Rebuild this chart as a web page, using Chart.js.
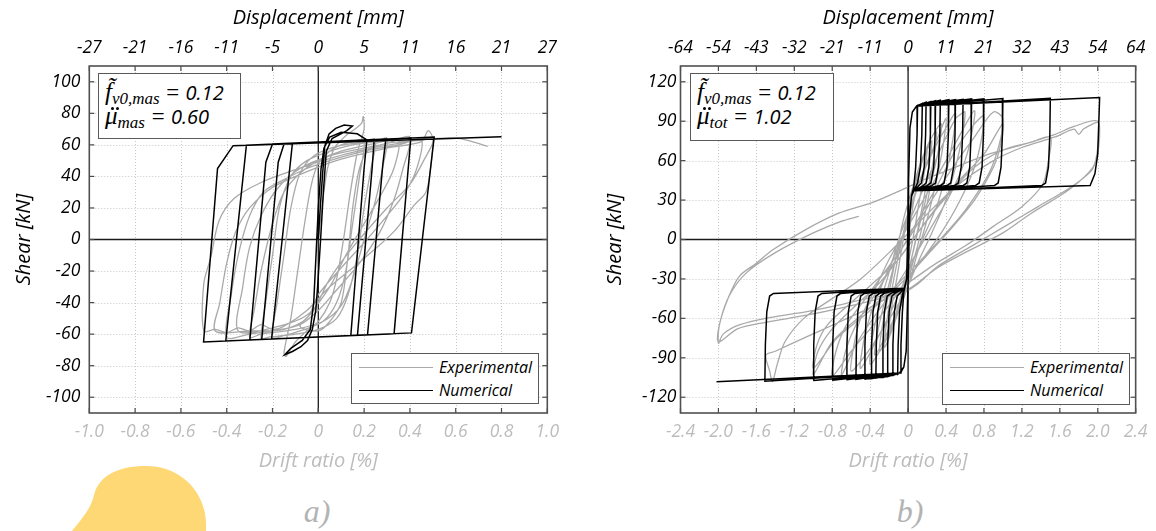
<!DOCTYPE html>
<html><head><meta charset="utf-8">
<script src="https://cdn.jsdelivr.net/npm/chart.js@4.4.1/dist/chart.umd.min.js"></script>
<style>
html,body{margin:0;padding:0;background:#fff;}
body{width:1156px;height:531px;position:relative;overflow:hidden;font-family:'Open Sans',sans-serif;}
.wrap{position:absolute;top:0;height:475px;}
#wa{left:0;width:580px;}
#wb{left:580px;width:576px;}
.note{position:absolute;background:#fff;border:1.5px solid #5a5a5a;box-sizing:border-box;color:#000;}
.note .ln{position:absolute;left:6px;white-space:nowrap;font-size:20px;font-style:italic;line-height:22px;}
.m{font-family:'Liberation Serif','DejaVu Serif',serif;font-style:italic;}
.big{font-size:25px;}
.sub{font-size:17px;position:relative;top:4px;}
.eq{font-family:'Liberation Serif',serif;font-size:23px;}
.acc{position:relative;display:inline-block;}
.dt{position:absolute;width:3px;height:3px;border-radius:50%;background:#000;top:2px;}
.leg{position:absolute;background:#fff;border:1.5px solid #5a5a5a;box-sizing:border-box;}
.leg .sw{position:absolute;left:7px;width:74px;height:0;}
.leg .tx{position:absolute;left:87px;font-size:16px;font-style:italic;line-height:18px;color:#000;white-space:nowrap;}
.lab{position:absolute;font-family:'Liberation Serif',serif;font-style:italic;font-size:32px;color:#b3b3b3;transform:translate(-50%,-50%);}
</style></head>
<body>
<svg style="position:absolute;left:0;top:440px" width="230" height="91"><path d="M72 91 C84 76 91 68 94 55 C99 36 117 26 146 26 C181 26 206 52 206 85 L206 91 Z" fill="#fdd874"/></svg>
<div class="wrap" id="wa"><canvas id="ca"></canvas></div>
<div class="wrap" id="wb"><canvas id="cb"></canvas></div>

<div class="note" style="left:98px;top:73px;width:143px;height:66px;">
  <div class="ln" style="top:7px"><span class="m big">f̃</span><span class="m sub">v0,mas</span> <span class="eq">=</span> 0.12</div>
  <div class="ln" style="top:31px"><span class="acc"><span class="m big">μ</span><span class="dt" style="left:6px"></span><span class="dt" style="left:11px"></span></span><span class="m sub">mas</span> <span class="eq">=</span> 0.60</div>
</div>
<div class="note" style="left:690px;top:73px;width:144px;height:68px;">
  <div class="ln" style="top:7px"><span class="m big">f̃</span><span class="m sub">v0,mas</span> <span class="eq">=</span> 0.12</div>
  <div class="ln" style="top:31px"><span class="acc"><span class="m big">μ</span><span class="dt" style="left:6px"></span><span class="dt" style="left:11px"></span></span><span class="m sub">tot</span> <span class="eq">=</span> 1.02</div>
</div>

<div class="leg" style="left:351px;top:353px;width:188px;height:51px;">
  <div class="sw" style="top:13px;border-top:1.5px solid #a9a9a9"></div><div class="tx" style="top:4px">Experimental</div>
  <div class="sw" style="top:36px;border-top:1.8px solid #000"></div><div class="tx" style="top:27px">Numerical</div>
</div>
<div class="leg" style="left:942px;top:353px;width:188px;height:52px;">
  <div class="sw" style="top:13px;border-top:1.5px solid #a9a9a9"></div><div class="tx" style="top:4px">Experimental</div>
  <div class="sw" style="top:36px;border-top:1.8px solid #000"></div><div class="tx" style="top:27px">Numerical</div>
</div>

<div class="lab" style="left:317px;top:511px">a)</div>
<div class="lab" style="left:910px;top:511px">b)</div>

<script>
// ---------- tick values & labels ----------
const driftTicksA = [-1.0,-0.8,-0.6,-0.4,-0.2,0,0.2,0.4,0.6,0.8,1.0];
const driftLabelsA = ['-1.0','-0.8','-0.6','-0.4','-0.2','0','0.2','0.4','0.6','0.8','1.0'];
const dispLabelsA = ['-27','-21','-16','-11','-5','0','5','11','16','21','27'];
const shearTicksA = [-100,-80,-60,-40,-20,0,20,40,60,80,100];

const driftTicksB = [-2.4,-2.0,-1.6,-1.2,-0.8,-0.4,0,0.4,0.8,1.2,1.6,2.0,2.4];
const driftLabelsB = ['-2.4','-2.0','-1.6','-1.2','-0.8','-0.4','0','0.4','0.8','1.2','1.6','2.0','2.4'];
const dispLabelsB = ['-64','-54','-43','-32','-21','-11','0','11','21','32','43','54','64'];
const shearTicksB = [-120,-90,-60,-30,0,30,60,90,120];

// ---------- series: [drift %, shear kN] ----------
const numericalA = [
[0,0],[0.008,19],[0.018,40],[0.028,59],[0.047,67],[0.076,70.5],[0.113,72.6],[0.149,72],
[0.125,69],[0.06,64],[0.035,56],[0.022,30],[0.01,0],[-0.003,-30],[-0.011,-45],[-0.026,-57],[-0.047,-64],[-0.076,-68],[-0.113,-71],[-0.146,-73],
[-0.12,-69],[-0.07,-64],[-0.035,-57],[-0.02,-40],[-0.01,-10],[0.0,20],[0.012,45],[0.025,58],[0.05,65],[0.1,68],[0.17,67],[0.212,63.1],
[0.2,45],[0.142,-60.9],[-0.204,-63.1],[-0.113,61.1],
[0.244,63.3],[0.235,45],[0.171,-60.7],[-0.247,-63.4],[-0.175,49],[-0.149,60.9],
[0.295,63.7],[0.282,48],[0.215,-60.4],[-0.299,-63.7],[-0.229,49],[-0.2,60.5],
[0.404,64.3],[0.331,-59.7],[-0.404,-64.3],[-0.314,59.8],
[0.506,65],[0.407,-59.2],[-0.501,-65],[-0.44,45],[-0.372,59.5],
[0.80,65.2]
];

const experimentalA = [
[0,0],[0.02,25],[0.04,45],[0.07,58],[0.1,63],[0.13,67],[0.16,70],[0.19,74],[0.196,78],[0.2,70],
[0.17,55],[0.14,30],[0.11,0],[0.08,-25],[0.05,-40],[0.0,-52],[-0.05,-58],[-0.1,-65],[-0.14,-74],[-0.15,-72],
[-0.12,-50],[-0.09,-20],[-0.06,10],[-0.03,35],[0.0,48],[0.05,56],[0.1,60],[0.15,62],[0.2,63],
[0.18,40],[0.15,10],[0.12,-20],[0.08,-40],[0.02,-52],[-0.08,-58],[-0.15,-61],[-0.2,-62],
[-0.18,-40],[-0.15,-10],[-0.12,20],[-0.08,42],[-0.02,53],[0.08,59],[0.2,62],[0.25,63],
[0.23,45],[0.2,20],[0.17,-10],[0.13,-35],[0.08,-50],[0.0,-57],[-0.1,-60],[-0.22,-62],[-0.25,-63],
[-0.23,-40],[-0.2,-10],[-0.17,20],[-0.12,40],[-0.05,50],[0.05,56],[0.15,60],[0.25,62],[0.3,64],
[0.28,45],[0.25,25],[0.2,0],[0.15,-25],[0.1,-42],[0.02,-52],[-0.1,-57],[-0.25,-60],[-0.3,-62],
[-0.28,-45],[-0.25,-20],[-0.2,10],[-0.15,30],[-0.08,42],[0.0,50],[0.1,56],[0.25,61],[0.35,63],
[0.33,45],[0.28,30],[0.2,10],[0.12,-10],[0.05,-30],[-0.05,-48],[-0.2,-56],[-0.35,-58],
[-0.33,-30],[-0.3,-5],[-0.25,15],[-0.18,32],[-0.08,45],[0.05,53],[0.2,58],[0.3,61],[0.4,65],
[0.37,45],[0.33,25],[0.27,5],[0.18,-15],[0.08,-32],[0.0,-45],[-0.08,-54],[-0.2,-58],[-0.3,-60],[-0.4,-62],
[-0.38,-35],[-0.35,-10],[-0.3,15],[-0.24,30],[-0.15,38],[-0.05,45],[0.05,50],[0.2,56],[0.35,60],[0.45,63],
[0.43,45],[0.38,30],[0.3,15],[0.2,-2],[0.1,-18],[0.0,-35],[-0.05,-50],[-0.15,-57],[-0.3,-58],[-0.45,-58],
[-0.43,-40],[-0.4,-15],[-0.36,5],[-0.3,20],[-0.2,33],[-0.05,43],[0.1,51],[0.3,58],[0.45,62],[0.48,69],[0.5,64],
[0.49,45],[0.47,30],[0.42,22],[0.33,5],[0.2,-12],[0.05,-30],[-0.05,-45],[-0.15,-55],[-0.2,-57],[-0.25,-54],[-0.3,-58],[-0.35,-56],[-0.4,-59],[-0.45,-57],[-0.5,-58],
[-0.5,-28],[-0.469,-11],[-0.433,12],[-0.368,26],[-0.252,36],[-0.106,44],[0.04,51],[0.2,57],[0.35,61],[0.5,64],
[0.46,50],[0.4,35],[0.3,20],[0.15,-5],[0.05,-25],[-0.02,-45],[-0.08,-55],[0.0,-58],[0.05,-52],[0.1,-40],[0.13,-10],[0.15,20],[0.18,45],[0.22,57],[0.3,61],[0.45,63],[0.5,64],[0.62,64],[0.74,59]
];

const numericalB = [
[0,0],[0.005,45],[0.02,85],[0.045,97],[0.09,101.5],[0.1,102],
[0.095,80],[0.08,55],[0.06,40],
[0.035,33],[0.015,15],[0.005,-20],[-0.005,-45],[-0.02,-85],[-0.045,-97],[-0.08,-101.5],
[-0.075,-80],[-0.06,-55],[-0.045,-40],
[-0.015,-30],[-0.005,0],[0.005,45],[0.02,85],[0.045,97],[0.09,101.5],[0.15,103.5],
[0.145,80],[0.13,55],[0.1,43],[0.06,37],
[0.035,33],[0.015,15],[0.005,-20],[-0.005,-45],[-0.02,-85],[-0.045,-97],[-0.09,-101.5],[-0.11,-102.5],
[-0.105,-80],[-0.09,-55],[-0.06,-42],[-0.04,-37],
[-0.015,-30],[-0.005,0],[0.005,45],[0.02,85],[0.045,97],[0.09,101.5],[0.19,104.5],
[0.185,80],[0.17,55],[0.14,43],[0.1,40],[0.06,37],
[0.035,33],[0.015,15],[0.005,-20],[-0.005,-45],[-0.02,-85],[-0.045,-97],[-0.09,-101.5],[-0.165,-103.5],
[-0.16,-80],[-0.145,-55],[-0.115,-43],[-0.075,-40],[-0.04,-37],
[-0.015,-30],[-0.005,0],[0.005,45],[0.02,85],[0.045,97],[0.09,101.5],[0.24,105],
[0.235,80],[0.22,55],[0.19,43],[0.15,40.5],[0.06,37],
[0.035,33],[0.015,15],[0.005,-20],[-0.005,-45],[-0.02,-85],[-0.045,-97],[-0.09,-101.5],[-0.22,-104.5],
[-0.215,-80],[-0.2,-55],[-0.17,-43],[-0.13,-40.5],[-0.04,-37],
[-0.015,-30],[-0.005,0],[0.005,45],[0.02,85],[0.045,97],[0.09,101.5],[0.29,105.5],
[0.285,80],[0.27,55],[0.24,43],[0.2,41],[0.06,37],
[0.035,33],[0.015,15],[0.005,-20],[-0.005,-45],[-0.02,-85],[-0.045,-97],[-0.09,-101.5],[-0.27,-105],
[-0.265,-80],[-0.25,-55],[-0.22,-43],[-0.18,-41],[-0.04,-37],
[-0.015,-30],[-0.005,0],[0.005,45],[0.02,85],[0.045,97],[0.09,101.5],[0.34,106],
[0.335,80],[0.32,55],[0.29,43],[0.25,41],[0.06,37],
[0.035,33],[0.015,15],[0.005,-20],[-0.005,-45],[-0.02,-85],[-0.045,-97],[-0.09,-101.5],[-0.34,-105.5],
[-0.335,-80],[-0.32,-55],[-0.29,-43],[-0.25,-41],[-0.04,-37],
[-0.015,-30],[-0.005,0],[0.005,45],[0.02,85],[0.045,97],[0.09,101.5],[0.43,106.3],
[0.425,80],[0.41,55],[0.38,43],[0.34,41],[0.06,37],
[0.035,33],[0.015,15],[0.005,-20],[-0.005,-45],[-0.02,-85],[-0.045,-97],[-0.09,-101.5],[-0.39,-106],
[-0.385,-80],[-0.37,-55],[-0.34,-43],[-0.3,-41],[-0.04,-37],
[-0.015,-30],[-0.005,0],[0.005,45],[0.02,85],[0.045,97],[0.09,101.5],[0.5,106.5],
[0.495,80],[0.48,55],[0.45,43],[0.41,41],[0.06,37],
[0.035,33],[0.015,15],[0.005,-20],[-0.005,-45],[-0.02,-85],[-0.045,-97],[-0.09,-101.5],[-0.46,-106.3],
[-0.455,-80],[-0.44,-55],[-0.41,-43],[-0.37,-41],[-0.04,-37],
[-0.015,-30],[-0.005,0],[0.005,45],[0.02,85],[0.045,97],[0.09,101.5],[0.58,106.7],
[0.575,80],[0.56,55],[0.53,43],[0.49,41],[0.06,37],
[0.035,33],[0.015,15],[0.005,-20],[-0.005,-45],[-0.02,-85],[-0.045,-97],[-0.09,-101.5],[-0.55,-106.5],
[-0.545,-80],[-0.53,-55],[-0.5,-43],[-0.46,-41],[-0.04,-37],
[-0.015,-30],[-0.005,0],[0.005,45],[0.02,85],[0.045,97],[0.09,101.5],[0.67,107],
[0.665,80],[0.65,55],[0.62,43],[0.58,41],[0.06,37],
[0.035,33],[0.015,15],[0.005,-20],[-0.005,-45],[-0.02,-85],[-0.045,-97],[-0.09,-101.5],[-0.65,-106.7],
[-0.645,-80],[-0.63,-55],[-0.6,-43],[-0.56,-41],[-0.04,-37],
[-0.015,-30],[-0.005,0],[0.005,45],[0.02,85],[0.045,97],[0.09,101.5],[0.8,107],
[0.795,80],[0.78,55],[0.75,43],[0.71,41],[0.06,37],
[0.035,33],[0.015,15],[0.005,-20],[-0.005,-45],[-0.02,-85],[-0.045,-97],[-0.09,-101.5],[-0.8,-107],
[-0.795,-80],[-0.78,-55],[-0.75,-43],[-0.71,-41],[-0.04,-37],
[-0.015,-30],[-0.005,0],[0.005,45],[0.02,85],[0.045,97],[0.09,101.5],[1.0,107.3],
[0.995,80],[0.98,55],[0.95,43],[0.91,41],[0.06,37],
[0.035,33],[0.015,15],[0.005,-20],[-0.005,-45],[-0.02,-85],[-0.045,-97],[-0.09,-101.5],[-1.0,-107.3],
[-0.995,-80],[-0.98,-55],[-0.95,-43],[-0.91,-41],[-0.04,-37],
[-0.015,-30],[-0.005,0],[0.005,45],[0.02,85],[0.045,97],[0.09,101.5],[1.5,107.5],
[1.495,80],[1.48,55],[1.45,43],[1.41,41],[0.06,37],
[0.035,33],[0.015,15],[0.005,-20],[-0.005,-45],[-0.02,-85],[-0.045,-97],[-0.09,-101.5],[-1.51,-107.8],
[-1.505,-80],[-1.49,-55],[-1.46,-43],[-1.42,-41],[-0.04,-37],
[-0.015,-30],[-0.005,0],[0.005,45],[0.02,85],[0.045,97],[0.09,101.5],[2.02,108],
[2.0,65],[1.97,50],[1.92,41],[0.06,37],
[0.035,33],[0.015,15],[0.005,-20],[-0.005,-45],[-0.02,-85],[-0.045,-97],[-0.09,-101.5],[-2.02,-108.2]
];

const experimentalB = [
[0,0],[0.05,25],[0.1,45],[0.15,60],[0.2,70],[0.18,55],[0.12,30],[0.05,0],[-0.02,-25],[-0.1,-50],[-0.15,-62],[-0.2,-72],
[-0.18,-55],[-0.12,-30],[-0.05,0],[0.02,25],[0.1,50],[0.2,68],[0.25,75],
[0.22,55],[0.15,25],[0.05,-10],[-0.05,-40],[-0.15,-65],[-0.25,-82],
[-0.22,-60],[-0.15,-30],[-0.05,5],[0.05,35],[0.15,60],[0.25,78],[0.3,82],
[0.27,62],[0.2,35],[0.1,5],[0.0,-25],[-0.1,-50],[-0.2,-70],[-0.3,-85],
[-0.27,-65],[-0.2,-40],[-0.12,-10],[-0.05,15],[0.05,40],[0.15,62],[0.25,78],[0.35,88],
[0.32,68],[0.25,45],[0.18,20],[0.1,-5],[0.0,-30],[-0.1,-52],[-0.2,-68],[-0.35,-88],
[-0.32,-70],[-0.25,-48],[-0.15,-20],[-0.05,5],[0.05,28],[0.15,50],[0.3,75],[0.4,92],
[0.37,72],[0.3,45],[0.2,15],[0.1,-10],[0.0,-35],[-0.1,-55],[-0.2,-72],[-0.3,-85],[-0.4,-95],
[-0.37,-72],[-0.3,-50],[-0.2,-25],[-0.1,0],[0.0,20],[0.1,40],[0.25,65],[0.4,85],[0.5,96],
[0.47,75],[0.4,50],[0.3,25],[0.15,0],[0.0,-25],[-0.15,-50],[-0.3,-72],[-0.5,-98],
[-0.47,-78],[-0.4,-58],[-0.25,-30],[-0.1,-5],[0.05,20],[0.2,45],[0.35,70],[0.5,92],[0.55,95],
[0.6,97],[0.57,78],[0.5,55],[0.4,30],[0.25,5],[0.1,-18],[0.0,-35],[-0.15,-55],[-0.3,-72],[-0.45,-88],[-0.6,-100],
[-0.57,-80],[-0.5,-60],[-0.35,-38],[-0.2,-15],[0.0,10],[0.2,35],[0.4,60],[0.55,80],[0.7,98],
[0.67,80],[0.6,60],[0.45,35],[0.25,10],[0.05,-15],[-0.15,-38],[-0.35,-58],[-0.55,-80],[-0.7,-103],
[-0.66,-85],[-0.55,-65],[-0.35,-42],[-0.15,-18],[0.05,8],[0.3,40],[0.5,68],[0.7,88],[0.8,94],
[0.77,75],[0.7,55],[0.55,30],[0.35,5],[0.15,-15],[0.0,-30],[-0.2,-50],[-0.4,-68],[-0.6,-85],[-0.8,-104],
[-0.76,-85],[-0.65,-65],[-0.45,-45],[-0.25,-25],[0.0,0],[0.25,30],[0.5,58],[0.7,78],[0.9,97],[1.0,92],
[0.96,72],[0.85,50],[0.6,22],[0.3,-3],[0.05,-22],[-0.2,-40],[-0.5,-58],[-0.8,-78],[-1.0,-103],
[-0.95,-85],[-0.8,-68],[-0.55,-50],[-0.3,-33],[-0.05,-10],[0.2,15],[0.5,42],[0.8,65],[1.0,88],
[0.97,70],[0.9,55],[0.7,30],[0.45,8],[0.2,-12],[0.0,-28],[-0.25,-45],[-0.5,-60],[-0.75,-75],[-1.0,-98],
[-0.96,-80],[-0.85,-65],[-0.6,-48],[-0.35,-32],[-0.1,-15],[0.1,5],[0.4,32],[0.7,55],[1.0,68],[1.3,74],[1.5,78],
[1.48,60],[1.42,42],[1.2,25],[0.9,10],[0.6,-5],[0.3,-18],[0.0,-33],[-0.3,-48],[-0.7,-62],[-1.1,-75],[-1.4,-85],[-1.5,-88],[-1.46,-100],[-1.43,-108],
[-1.38,-95],[-1.3,-78],[-1.1,-60],[-0.8,-45],[-0.5,-30],[-0.2,-10],[0.1,12],[0.5,40],[0.9,60],[1.2,70],[1.55,78],[1.75,84],[1.8,80],[1.85,84],[1.95,88],[2.0,89],
[2.02,85],[2.01,70],[1.98,60],[1.93,52],[1.72,40],[1.37,25],[1.02,10],[0.67,-5],[0.32,-20],[0.08,-35],[-0.1,-42],[-0.38,-44],[-0.73,-50],[-1.08,-55],[-1.43,-59],[-1.78,-65],[-1.95,-72],[-2.0,-79],
[-1.99,-65],[-1.9,-45],[-1.78,-28],[-1.6,-18],[-1.43,-8],[-1.08,7.5],[-0.73,20],[-0.38,28],[-0.06,38],[0.15,45],[0.5,55],[0.85,65],[1.2,72],[1.55,80],[1.75,86],[2.0,90],
[2.0,70],[1.95,55],[1.7,38],[1.3,20],[1.0,5],[0.6,-10],[0.3,-22],[0.0,-38],[-0.3,-45],[-0.7,-52],[-1.1,-58],[-1.5,-63],[-1.8,-68],[-2.0,-78],
[-1.98,-62],[-1.88,-42],[-1.7,-25],[-1.4,-10],[-1.0,5],[-0.7,14],[-0.52,17.6]
];

// ---------- drawing ----------
const FONT = {family:'Open Sans', size:17.5, style:'italic'};
const TFONT = {family:'Open Sans', size:20, style:'italic'};

const framePlugin = {
  id:'frame',
  beforeDatasetsDraw(chart){
    const {ctx, chartArea:a, scales:{x,y}} = chart;
    ctx.save();
    ctx.strokeStyle='#c8c8c8'; ctx.lineWidth=1; ctx.setLineDash([1,2]);
    x.ticks.forEach(t=>{
      if(t.value===0) return;
      const px=Math.round(x.getPixelForValue(t.value))+0.5;
      if(px<=a.left+1||px>=a.right-1) return;
      ctx.beginPath(); ctx.moveTo(px,a.top); ctx.lineTo(px,a.bottom); ctx.stroke();
    });
    y.ticks.forEach(t=>{
      if(t.value===0) return;
      const py=Math.round(y.getPixelForValue(t.value))+0.5;
      ctx.beginPath(); ctx.moveTo(a.left,py); ctx.lineTo(a.right,py); ctx.stroke();
    });
    ctx.setLineDash([]);
    ctx.strokeStyle='#1a1a1a'; ctx.lineWidth=1.3;
    const zx=x.getPixelForValue(0), zy=y.getPixelForValue(0);
    ctx.beginPath(); ctx.moveTo(zx,a.top); ctx.lineTo(zx,a.bottom); ctx.stroke();
    ctx.beginPath(); ctx.moveTo(a.left,zy); ctx.lineTo(a.right,zy); ctx.stroke();
    ctx.restore();
  },
  afterDatasetsDraw(chart){
    const {ctx, chartArea:a, scales:{x,y}} = chart;
    ctx.save();
    ctx.strokeStyle='#4a4a4a'; ctx.lineWidth=1.2;
    const L=5;
    x.ticks.forEach(t=>{
      const px=x.getPixelForValue(t.value);
      ctx.beginPath(); ctx.moveTo(px,a.top); ctx.lineTo(px,a.top+L); ctx.stroke();
      ctx.beginPath(); ctx.moveTo(px,a.bottom); ctx.lineTo(px,a.bottom-L); ctx.stroke();
    });
    y.ticks.forEach(t=>{
      const py=y.getPixelForValue(t.value);
      ctx.beginPath(); ctx.moveTo(a.left,py); ctx.lineTo(a.left+L,py); ctx.stroke();
      ctx.beginPath(); ctx.moveTo(a.right,py); ctx.lineTo(a.right-L,py); ctx.stroke();
    });
    ctx.lineWidth=1.6; ctx.strokeStyle='#505050';
    ctx.strokeRect(a.left,a.top,a.right-a.left,a.bottom-a.top);
    ctx.restore();
  }
};

function toXY(arr){ return arr.map(p=>({x:p[0], y:p[1]})); }

function makeChart(id, w, h, o){
  const cv=document.getElementById(id);
  cv.width=w; cv.height=h; cv.style.width=w+'px'; cv.style.height=h+'px';
  return new Chart(cv, {
    type:'scatter',
    data:{datasets:[
      {label:'Numerical', data:toXY(o.num), showLine:true, pointRadius:0, borderColor:'#000', borderWidth:1.5, tension:0, fill:false, xAxisID:'x', yAxisID:'y'},
      {label:'Experimental', data:toXY(o.exp), showLine:true, pointRadius:0, borderColor:'#a9a9a9', borderWidth:1.3, tension:0.3, fill:false, xAxisID:'x', yAxisID:'y'}
    ]},
    options:{
      responsive:false, animation:false, events:[],
      layout:{padding:{left:0,right:o.padRight,top:0,bottom:0}},
      plugins:{legend:{display:false}, tooltip:{enabled:false}},
      scales:{
        x:{type:'linear', position:'bottom', min:o.xmin, max:o.xmax,
           afterBuildTicks:s=>{s.ticks=o.xticks.map(v=>({value:v}));},
           afterFit:s=>{s.height=62;},
           grid:{display:false, drawTicks:false}, border:{display:false},
           ticks:{autoSkip:false, maxRotation:0, minRotation:0, padding:8.5, color:'#bcbcbc', font:FONT,
                  callback:(v,i)=>o.xlabels[i]},
           title:{display:true, text:'Drift ratio [%]', color:'#bcbcbc', font:TFONT, padding:{top:0,bottom:2}}},
        x2:{type:'linear', position:'top', min:o.xmin, max:o.xmax,
           afterBuildTicks:s=>{s.ticks=o.xticks.map(v=>({value:v}));},
           afterFit:s=>{s.height=66;},
           grid:{display:false, drawTicks:false}, border:{display:false},
           ticks:{autoSkip:false, maxRotation:0, minRotation:0, padding:7.5, color:'#000', font:FONT,
                  callback:(v,i)=>o.toplabels[i]},
           title:{display:true, text:'Displacement [mm]', color:'#000', font:TFONT, padding:{top:6,bottom:0}}},
        y:{type:'linear', position:'left', min:o.ymin, max:o.ymax,
           afterBuildTicks:s=>{s.ticks=o.yticks.map(v=>({value:v}));},
           afterFit:s=>{s.width=o.yWidth;},
           grid:{display:false, drawTicks:false}, border:{display:false},
           ticks:{autoSkip:false, padding:o.yPad, color:'#000', font:FONT},
           title:{display:true, text:'Shear [kN]', color:'#000', font:TFONT, padding:{top:o.yTitlePad,bottom:0}}}
      }
    },
    plugins:[framePlugin]
  });
}

makeChart('ca', 580, 475, {num:numericalA, exp:experimentalA, xmin:-1, xmax:1, ymin:-110, ymax:110,
  xticks:driftTicksA, xlabels:driftLabelsA, toplabels:dispLabelsA, yticks:shearTicksA,
  padRight:32.7, yWidth:89.3, yPad:9, yTitlePad:12});
makeChart('cb', 576, 475, {num:numericalB, exp:experimentalB, xmin:-2.4, xmax:2.4, ymin:-132, ymax:132,
  xticks:driftTicksB, xlabels:driftLabelsB, toplabels:dispLabelsB, yticks:shearTicksB,
  padRight:18.5, yWidth:100.5, yPad:4, yTitlePad:23});
</script>
</body></html>
